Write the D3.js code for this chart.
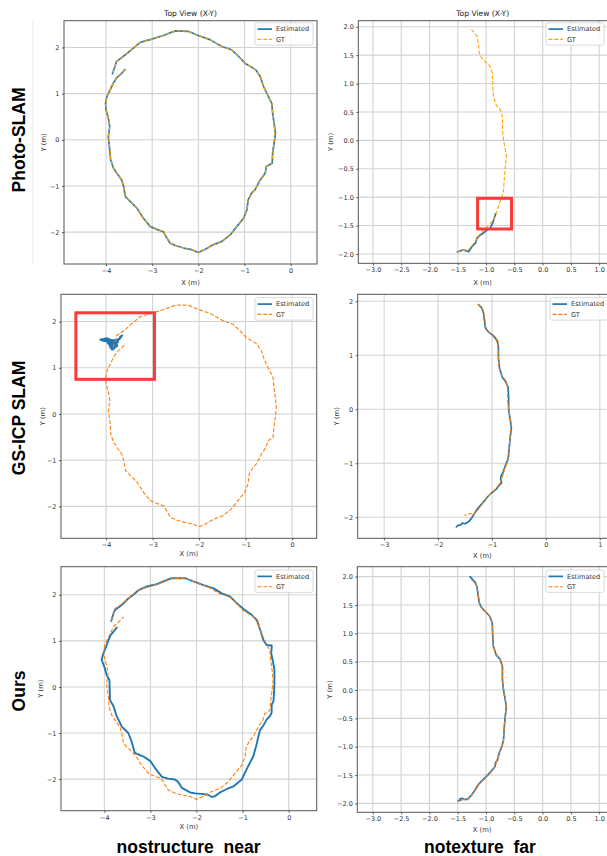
<!DOCTYPE html>
<html>
<head>
<meta charset="utf-8">
<script src="https://cdn.jsdelivr.net/npm/d3@7"></script>
<style>
  body { margin: 0; background: #fff; }
  svg { display: block; }
</style>
</head>
<body>
<script>
// ---------------- data (metres) ----------------
var rowLabels = ["Photo-SLAM", "GS-ICP SLAM", "Ours"];
var colLabels = ["nostructure  near", "notexture  far"];
var legendLabels = ["Estimated", "GT"];
var titleText = "Top View (X-Y)";

var ticksNearX = [-4, -3, -2, -1, 0];
var ticksNearY = [-2, -1, 0, 1, 2];
var ticksHalfX = [-3.0, -2.5, -2.0, -1.5, -1.0, -0.5, 0.0, 0.5, 1.0];
var ticksHalfY = [-2.0, -1.5, -1.0, -0.5, 0.0, 0.5, 1.0, 1.5, 2.0];
var ticksIntX = [-3, -2, -1, 0, 1];
var ticksIntY = [-2, -1, 0, 1, 2];

// ground truth, "nostructure near" loop
var gtNear = [
  [-3.85,1.44],[-3.77,1.70],[-3.62,1.80],[-3.44,1.96],[-3.26,2.11],[-3.01,2.18],
  [-2.76,2.26],[-2.50,2.36],[-2.22,2.35],[-2.03,2.27],[-1.75,2.17],[-1.49,2.02],
  [-1.28,1.95],[-1.13,1.81],[-0.99,1.66],[-0.76,1.52],[-0.66,1.37],[-0.59,1.16],
  [-0.52,1.01],[-0.41,0.79],[-0.39,0.58],[-0.36,0.36],[-0.34,0.14],[-0.36,-0.07],
  [-0.39,-0.29],[-0.41,-0.51],[-0.52,-0.58],[-0.56,-0.72],[-0.66,-0.87],[-0.77,-1.08],
  [-0.84,-1.16],[-0.92,-1.30],[-0.95,-1.52],[-1.02,-1.70],[-1.17,-1.88],[-1.31,-2.06],
  [-1.49,-2.20],[-1.67,-2.27],[-1.85,-2.37],[-2.00,-2.44],[-2.14,-2.38],[-2.29,-2.35],
  [-2.47,-2.30],[-2.61,-2.24],[-2.68,-2.13],[-2.76,-1.99],[-2.90,-1.94],[-3.04,-1.88],
  [-3.19,-1.70],[-3.33,-1.48],[-3.44,-1.37],[-3.58,-1.23],[-3.62,-1.01],[-3.66,-0.87],
  [-3.77,-0.72],[-3.84,-0.61],[-3.90,-0.43],[-3.91,-0.22],[-3.95,0.07],[-3.92,0.29],
  [-3.95,0.47],[-4.00,0.65],[-4.01,0.79],[-3.98,0.94],[-3.91,1.08],[-3.84,1.23],
  [-3.77,1.34],[-3.69,1.41],[-3.58,1.52]
];

// Photo-SLAM estimate, near (sits on the GT)
var photoNearEst = [
  [-3.86,1.43],[-3.77,1.70],[-3.62,1.81],[-3.44,1.96],[-3.26,2.11],[-3.01,2.18],
  [-2.76,2.26],[-2.50,2.36],[-2.22,2.35],[-2.03,2.27],[-1.75,2.17],[-1.49,2.02],
  [-1.28,1.95],[-1.13,1.81],[-0.99,1.66],[-0.76,1.52],[-0.66,1.37],[-0.59,1.16],
  [-0.52,1.01],[-0.41,0.79],[-0.39,0.58],[-0.36,0.36],[-0.33,0.14],[-0.36,-0.07],
  [-0.39,-0.29],[-0.40,-0.51],[-0.53,-0.58],[-0.55,-0.72],[-0.66,-0.87],[-0.77,-1.08],
  [-0.85,-1.16],[-0.92,-1.30],[-0.95,-1.52],[-1.02,-1.70],[-1.17,-1.88],[-1.31,-2.06],
  [-1.49,-2.20],[-1.67,-2.27],[-1.85,-2.37],[-2.00,-2.44],[-2.14,-2.38],[-2.29,-2.35],
  [-2.47,-2.30],[-2.61,-2.24],[-2.68,-2.13],[-2.76,-1.99],[-2.90,-1.94],[-3.04,-1.88],
  [-3.19,-1.70],[-3.33,-1.48],[-3.44,-1.37],[-3.58,-1.23],[-3.62,-1.01],[-3.66,-0.87],
  [-3.77,-0.72],[-3.84,-0.61],[-3.90,-0.43],[-3.92,-0.22],[-3.95,0.07],[-3.92,0.29],
  [-3.95,0.47],[-4.00,0.65],[-4.01,0.79],[-3.98,0.94],[-3.91,1.08],[-3.84,1.23],
  [-3.77,1.34],[-3.69,1.41],[-3.59,1.52]
];

// GS-ICP SLAM estimate, near (collapsed into a knot)
var gsicpNearEst = [
  [-4.12,1.61],[-4.05,1.62],[-3.98,1.64],[-3.95,1.60],[-3.99,1.57],[-3.92,1.58],
  [-3.96,1.53],[-3.90,1.55],[-3.93,1.49],[-3.86,1.52],[-3.90,1.46],[-3.84,1.48],
  [-3.87,1.42],[-3.82,1.45],[-3.85,1.40],[-3.80,1.47],[-3.83,1.53],[-3.78,1.50],
  [-3.80,1.56],[-3.75,1.55],[-3.78,1.60],[-3.72,1.62],[-3.70,1.66],[-3.66,1.70],
  [-3.70,1.64],[-3.76,1.58],[-3.82,1.60],[-3.88,1.58],[-3.94,1.62],[-4.02,1.60],
  [-4.10,1.60],[-4.04,1.58],[-3.97,1.59],[-3.94,1.55],[-3.89,1.51],[-3.91,1.44],
  [-3.86,1.45],[-3.88,1.40],[-3.83,1.42],[-3.81,1.50],[-3.86,1.55],[-3.92,1.52],
  [-3.97,1.56],[-3.93,1.60],[-3.87,1.60],[-3.84,1.56],[-3.79,1.53],[-3.76,1.48],
  [-3.81,1.44],[-3.85,1.48]
];

// Ours estimate, near
var oursNearEst = [
  [-3.85,1.43],[-3.80,1.60],[-3.77,1.67],[-3.62,1.78],[-3.48,1.92],[-3.37,2.00],
  [-3.26,2.10],[-3.08,2.18],[-2.86,2.23],[-2.72,2.29],[-2.54,2.36],[-2.25,2.36],
  [-2.07,2.29],[-1.85,2.21],[-1.63,2.14],[-1.45,2.03],[-1.27,1.96],[-1.13,1.82],
  [-0.98,1.69],[-0.80,1.56],[-0.69,1.45],[-0.62,1.24],[-0.55,1.02],[-0.48,0.91],
  [-0.37,0.90],[-0.37,0.86],[-0.38,0.73],[-0.35,0.59],[-0.31,0.37],[-0.31,0.08],
  [-0.32,-0.14],[-0.33,-0.30],[-0.37,-0.39],[-0.37,-0.55],[-0.40,-0.62],[-0.48,-0.71],
  [-0.55,-0.84],[-0.62,-0.93],[-0.66,-1.08],[-0.69,-1.22],[-0.77,-1.51],[-0.88,-1.72],
  [-1.02,-2.01],[-1.20,-2.16],[-1.35,-2.22],[-1.49,-2.29],[-1.60,-2.37],[-1.67,-2.39],
  [-1.75,-2.34],[-1.89,-2.32],[-2.03,-2.31],[-2.14,-2.29],[-2.32,-2.19],[-2.40,-2.06],
  [-2.47,-2.01],[-2.62,-1.99],[-2.75,-1.95],[-2.90,-1.76],[-3.00,-1.61],[-3.15,-1.51],
  [-3.34,-1.43],[-3.41,-1.18],[-3.48,-1.00],[-3.62,-0.86],[-3.73,-0.64],[-3.80,-0.42],
  [-3.88,-0.28],[-3.88,-0.14],[-3.89,0.15],[-3.95,0.26],[-4.00,0.44],[-4.06,0.59],
  [-4.02,0.73],[-3.96,0.88],[-3.91,1.02],[-3.86,1.13],[-3.80,1.20],[-3.73,1.29]
];

// ground truth, "notexture far" walk
var gtFar = [
  [-1.26,1.95],[-1.21,1.90],[-1.16,1.83],[-1.135,1.69],[-1.12,1.54],[-1.09,1.47],
  [-1.02,1.39],[-0.93,1.30],[-0.89,1.19],[-0.88,0.95],[-0.87,0.77],[-0.82,0.62],
  [-0.75,0.54],[-0.71,0.42],[-0.71,0.18],[-0.69,0.00],[-0.66,-0.17],[-0.64,-0.29],
  [-0.66,-0.47],[-0.68,-0.70],[-0.69,-0.88],[-0.72,-1.00],[-0.76,-1.09],[-0.81,-1.26],
  [-0.84,-1.35],[-0.88,-1.41],[-0.94,-1.48],[-1.05,-1.59],[-1.135,-1.68],[-1.19,-1.77],
  [-1.27,-1.88],[-1.33,-1.94],[-1.40,-1.93],[-1.46,-1.95],[-1.51,-1.97]
];

// Photo-SLAM estimate, far (only the last stretch)
var photoFarEst = [
  [-0.83,-1.29],[-0.86,-1.38],[-0.88,-1.45],[-0.93,-1.55],[-0.98,-1.58],[-1.05,-1.63],
  [-1.12,-1.68],[-1.16,-1.72],[-1.19,-1.81],[-1.25,-1.87],[-1.31,-1.96],[-1.36,-1.94],
  [-1.42,-1.93],[-1.46,-1.95],[-1.51,-1.96]
];

// GS-ICP SLAM estimate, far
var gsicpFarEst = [
  [-1.25,1.94],[-1.19,1.88],[-1.16,1.80],[-1.14,1.65],[-1.12,1.50],[-1.06,1.43],
  [-0.97,1.36],[-0.90,1.27],[-0.88,1.15],[-0.88,0.95],[-0.86,0.76],[-0.81,0.60],
  [-0.74,0.50],[-0.70,0.40],[-0.69,0.20],[-0.69,-0.02],[-0.66,-0.20],[-0.64,-0.35],
  [-0.66,-0.50],[-0.68,-0.72],[-0.70,-0.92],[-0.75,-1.04],[-0.80,-1.18],[-0.83,-1.23],
  [-0.84,-1.30],[-0.82,-1.36],[-0.86,-1.40],[-0.92,-1.48],[-1.02,-1.56],[-1.08,-1.62],
  [-1.16,-1.72],[-1.25,-1.82],[-1.32,-1.92],[-1.38,-2.02],[-1.44,-2.09],[-1.50,-2.12],
  [-1.55,-2.11],[-1.58,-2.14],[-1.63,-2.15],[-1.66,-2.18]
];

// Ours estimate, far
var oursFarEst = [
  [-1.28,2.00],[-1.24,1.95],[-1.19,1.90],[-1.16,1.82],[-1.14,1.68],[-1.12,1.54],
  [-1.09,1.47],[-1.02,1.39],[-0.94,1.31],[-0.89,1.19],[-0.88,0.95],[-0.87,0.77],
  [-0.82,0.62],[-0.75,0.54],[-0.71,0.42],[-0.71,0.18],[-0.69,0.00],[-0.66,-0.17],
  [-0.64,-0.30],[-0.66,-0.47],[-0.68,-0.70],[-0.69,-0.88],[-0.72,-1.00],[-0.76,-1.09],
  [-0.80,-1.24],[-0.83,-1.28],[-0.84,-1.35],[-0.89,-1.41],[-0.95,-1.48],[-1.05,-1.58],
  [-1.13,-1.66],[-1.19,-1.76],[-1.26,-1.86],[-1.33,-1.93],[-1.38,-1.93],[-1.42,-1.91],
  [-1.46,-1.92],[-1.44,-1.94],[-1.49,-1.95]
];

// red highlight boxes [x0, y0, x1, y1]
var zoomBoxPhotoFar = [-1.15, -1.02, -0.55, -1.56];
var zoomBoxGsicpNear = [-4.65, 2.19, -2.96, 0.75];

// ---------------- layout ----------------
var W = 607, H = 856;
var BLUE = "#1f77b4", ORANGE = "#ff7f0e", GOLD = "#ffa500";
var fmtInt = d3.format("d"), fmtOne = d3.format(".1f");

// box = [left, right, top, bottom] in px
var panels = [
  {box: [64, 317, 20.7, 264], xd: [-4.91, 0.57], yd: [-2.69, 2.58],
   xt: ticksNearX, yt: ticksNearY, fmt: fmtInt, est: photoNearEst, gt: gtNear,
   gtColor: GOLD, title: true, ylabX: 45.5, xlabY: 284.5, legX: 255, legY: 22.7,
   zoom: null, estW: 1.7},
  {box: [358.3, 608, 20.7, 263.3], xd: [-3.26, 1.156], yd: [-2.164, 2.106],
   xt: ticksHalfX, yt: ticksHalfY, fmt: fmtOne, est: photoFarEst, gt: gtFar,
   gtColor: GOLD, title: true, ylabX: 333.2, xlabY: 284.5, legX: 546, legY: 22.7,
   zoom: zoomBoxPhotoFar, estW: 1.7},
  {box: [61, 316.7, 294.3, 538.3], xd: [-4.97, 0.53], yd: [-2.69, 2.59],
   xt: ticksNearX, yt: ticksNearY, fmt: fmtInt, est: gsicpNearEst, gt: gtNear,
   gtColor: ORANGE, title: false, ylabX: 45.2, xlabY: 555.5, legX: 255, legY: 297.7,
   zoom: zoomBoxGsicpNear, estW: 2.2},
  {box: [357.7, 612, 294.3, 538.3], xd: [-3.49, 1.226], yd: [-2.39, 2.13],
   xt: ticksIntX, yt: ticksIntY, fmt: fmtInt, est: gsicpFarEst, gt: gtFar,
   gtColor: ORANGE, title: false, ylabX: 339.2, xlabY: 558.2, legX: 550, legY: 297.7,
   zoom: null, estW: 1.7},
  {box: [61, 316.7, 566.7, 810.7], xd: [-4.94, 0.607], yd: [-2.686, 2.61],
   xt: ticksNearX, yt: ticksNearY, fmt: fmtInt, est: oursNearEst, gt: gtNear,
   gtColor: ORANGE, title: false, ylabX: 42.5, xlabY: 829.2, legX: 255, legY: 570,
   zoom: null, estW: 1.9},
  {box: [357.3, 608, 566.7, 812.3], xd: [-3.274, 1.156], yd: [-2.157, 2.175],
   xt: ticksHalfX, yt: ticksHalfY, fmt: fmtOne, est: oursFarEst, gt: gtFar,
   gtColor: ORANGE, title: false, ylabX: 331.8, xlabY: 831.8, legX: 546, legY: 570,
   zoom: null, estW: 1.7}
];

var svg = d3.select("body").append("svg")
    .attr("width", W)
    .attr("height", H)
    .style("font-family", "'DejaVu Sans', sans-serif");

svg.append("rect").attr("width", W).attr("height", H).attr("fill", "#fff");

// faint border left over from the pasted image
svg.append("line")
    .attr("x1", 33).attr("x2", 33).attr("y1", 20).attr("y2", 264)
    .attr("stroke", "#ececec").attr("stroke-width", 1);

panels.forEach(drawPanel);

function drawPanel(p) {
  var l = p.box[0], r = p.box[1], t = p.box[2], b = p.box[3];
  var x = d3.scaleLinear().domain(p.xd).range([l, r]);
  var y = d3.scaleLinear().domain(p.yd).range([b, t]);
  var g = svg.append("g");

  var clipId = "clip" + Math.round(l) + "_" + Math.round(t);
  g.append("clipPath").attr("id", clipId)
    .append("rect").attr("x", l).attr("y", t).attr("width", r - l).attr("height", b - t);

  // grid
  var grid = g.append("g").attr("stroke", "#d2d2d2").attr("stroke-width", 1.1);
  grid.selectAll("line.gx").data(p.xt).enter().append("line")
      .attr("x1", function(d) { return x(d); }).attr("x2", function(d) { return x(d); })
      .attr("y1", t).attr("y2", b);
  grid.selectAll("line.gy").data(p.yt).enter().append("line")
      .attr("y1", function(d) { return y(d); }).attr("y2", function(d) { return y(d); })
      .attr("x1", l).attr("x2", r);

  // trajectories
  var line = d3.line()
      .x(function(d) { return x(d[0]); })
      .y(function(d) { return y(d[1]); });
  var plot = g.append("g").attr("clip-path", "url(#" + clipId + ")");
  plot.append("path").attr("d", line(p.est))
      .attr("fill", "none").attr("stroke", BLUE).attr("stroke-width", p.estW)
      .attr("stroke-linejoin", "round").attr("stroke-linecap", "round");
  plot.append("path").attr("d", line(p.gt))
      .attr("fill", "none").attr("stroke", p.gtColor).attr("stroke-width", 1.1)
      .attr("stroke-dasharray", "4,1.8");

  // axes (ticks + labels), frame drawn separately
  var ax = d3.axisBottom(x).tickValues(p.xt).tickFormat(p.fmt).tickSize(2).tickPadding(2.5);
  var ay = d3.axisLeft(y).tickValues(p.yt).tickFormat(p.fmt).tickSize(2).tickPadding(2.5);
  var gx = g.append("g").attr("transform", "translate(0," + b + ")").call(ax);
  var gy = g.append("g").attr("transform", "translate(" + l + ",0)").call(ay);
  [gx, gy].forEach(function(a) {
    a.select(".domain").remove();
    a.selectAll("line").attr("stroke", "#555");
    a.selectAll("text").attr("fill", "#333").style("font-size", "6.5px")
      .style("font-family", "'DejaVu Sans', sans-serif");
  });

  g.append("rect")
      .attr("x", l).attr("y", t).attr("width", r - l).attr("height", b - t)
      .attr("fill", "none").attr("stroke", "#555").attr("stroke-width", 1);

  if (p.title) {
    g.append("text")
        .attr("x", (l + Math.min(r, 607)) / 2).attr("y", t - 5)
        .attr("text-anchor", "middle").attr("fill", "#222")
        .style("font-size", "7.6px").text(titleText);
  }

  g.append("text")
      .attr("x", (l + Math.min(r, 607)) / 2).attr("y", p.xlabY)
      .attr("text-anchor", "middle").attr("fill", "#333")
      .style("font-size", "6.8px").text("X (m)");
  g.append("text")
      .attr("transform", "translate(" + p.ylabX + "," + ((t + b) / 2) + ") rotate(-90)")
      .attr("text-anchor", "middle").attr("fill", "#333")
      .style("font-size", "6.8px").text("Y (m)");

  // legend
  var lg = g.append("g").attr("transform", "translate(" + p.legX + "," + p.legY + ")");
  lg.append("rect").attr("width", 58).attr("height", 22.4).attr("rx", 2)
      .attr("fill", "#fff").attr("fill-opacity", 0.85)
      .attr("stroke", "#d0d0d0").attr("stroke-width", 0.8);
  legendLabels.forEach(function(name, i) {
    var yy = 6.4 + i * 10.3;
    lg.append("line").attr("x1", 2.5).attr("x2", 17).attr("y1", yy).attr("y2", yy)
        .attr("stroke", i === 0 ? BLUE : p.gtColor)
        .attr("stroke-width", i === 0 ? 1.7 : 1.1)
        .attr("stroke-dasharray", i === 0 ? null : "4,1.8");
    lg.append("text").attr("x", 21).attr("y", yy + 2.2)
        .attr("fill", "#333").style("font-size", "6.6px").text(name);
  });

  // red highlight box
  if (p.zoom) {
    var zb = p.zoom;
    g.append("rect")
        .attr("x", x(zb[0])).attr("y", y(zb[1]))
        .attr("width", x(zb[2]) - x(zb[0])).attr("height", y(zb[3]) - y(zb[1]))
        .attr("fill", "none").attr("stroke", "#fa3a3a").attr("stroke-width", 3);
  }
}

// row labels on the left
var rowCenters = [140, 418, 691];
rowLabels.forEach(function(name, i) {
  svg.append("text")
      .attr("transform", "translate(25," + rowCenters[i] + ") rotate(-90)")
      .attr("text-anchor", "middle")
      .style("font-family", "'Liberation Sans', Arial, sans-serif")
      .style("font-weight", "bold").style("font-size", "17.5px")
      .attr("fill", "#000").text(name);
});

// column labels along the bottom
var colCenters = [188.5, 480];
colLabels.forEach(function(name, i) {
  svg.append("text")
      .attr("x", colCenters[i]).attr("y", 852.5)
      .attr("text-anchor", "middle")
      .style("white-space", "pre")
      .style("font-family", "'Liberation Sans', Arial, sans-serif")
      .style("font-weight", "bold").style("font-size", "17.5px")
      .attr("fill", "#000").text(name);
});
</script>
</body>
</html>
